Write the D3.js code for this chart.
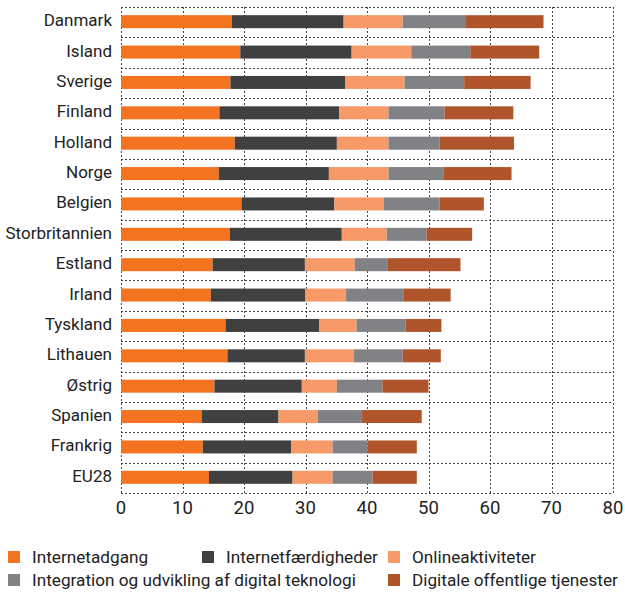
<!DOCTYPE html>
<meta charset="utf-8">
<html>
  <head>
    <style>
      body { margin: 0; background: #fff; }
      text { font-family: Roboto, "Noto Sans", sans-serif; fill: #222; }
      .grid line { stroke: #444; stroke-width: 1px; stroke-dasharray: 2,2; shape-rendering: crispEdges; }
      .country { font-size: 17px; }
      .tick-label { font-size: 18.5px; }
      .legend-text { font-size: 17.2px; }
    </style>
    <script src="https://cdn.jsdelivr.net/npm/d3@7"></script>
  </head>
  <body>
    <div id="chart"></div>
    <script>
    // lande, oppefra og ned
    var countries = ["Danmark","Island","Sverige","Finland","Holland","Norge","Belgien","Storbritannien",
                     "Estland","Irland","Tyskland","Lithauen","Østrig","Spanien","Frankrig","EU28"];
    var seriesNames = ["Internetadgang","Internetfærdigheder","Onlineaktiviteter",
                       "Integration og udvikling af digital teknologi","Digitale offentlige tjenester"];
    var colors = ["#F37321","#404041","#F79A67","#818285","#B0552B"];

    var internetadgang      = [18.0,19.4,17.8,16.0,18.5,15.9,19.6,17.7,14.9,14.6,17.0,17.3,15.2,13.1,13.3,14.3];
    var internetfaerdigheder = [18.2,18.1,18.7,19.5,16.6,17.9,15.1,18.2,15.0,15.4,15.2,12.6,14.2,12.5,14.4,13.6];
    var onlineaktiviteter   = [ 9.6, 9.7, 9.6, 8.0, 8.4, 9.7, 8.0, 7.3, 8.1, 6.6, 6.1, 8.0, 5.7, 6.4, 6.7, 6.5];
    var integration         = [10.3, 9.6, 9.7, 9.1, 8.3, 8.9, 9.1, 6.5, 5.4, 9.4, 8.0, 7.9, 7.4, 7.2, 5.7, 6.5];
    var offentlige          = [12.6,11.2,10.8,11.2,12.1,11.1, 7.2, 7.4,11.8, 7.6, 5.8, 6.2, 7.5, 9.7, 8.0, 7.2];
    var xTicks = [0,10,20,30,40,50,60,70,80];

    var allSeries = [internetadgang, internetfaerdigheder, onlineaktiviteter, integration, offentlige];

    var width = 625, height = 594;
    var plotLeft = 121, plotRight = 613, plotTop = 7, plotBottom = 493;

    var rows = countries.map(function(c, i) {
      var r = { name: c };
      seriesNames.forEach(function(s, j) { r[s] = allSeries[j][i]; });
      return r;
    });

    var stacked = d3.stack().keys(seriesNames)(rows);

    var x = d3.scaleLinear().domain([0, 80]).range([plotLeft, plotRight]);
    var y = d3.scaleBand().domain(countries).range([plotTop, plotBottom]);
    var color = d3.scaleOrdinal().domain(seriesNames).range(colors);
    var barH = 13;

    var svg = d3.select("#chart").append("svg")
        .attr("width", width)
        .attr("height", height);

    // gitter
    var grid = svg.append("g").attr("class", "grid");
    grid.selectAll(".v").data(xTicks).enter().append("line")
        .attr("x1", function(d) { return Math.round(x(d)) + 0.5; })
        .attr("x2", function(d) { return Math.round(x(d)) + 0.5; })
        .attr("y1", plotTop).attr("y2", plotBottom);
    var hLines = countries.map(function(c) { return y(c); }).concat([plotBottom]);
    grid.selectAll(".h").data(hLines).enter().append("line")
        .attr("x1", plotLeft).attr("x2", plotRight)
        .attr("y1", function(d) { return Math.round(d) + 0.5; })
        .attr("y2", function(d) { return Math.round(d) + 0.5; });

    // stablede søjler
    svg.selectAll(".serie")
        .data(stacked)
        .enter().append("g")
        .attr("class", "serie")
        .style("fill", function(d) { return color(d.key); })
      .selectAll("rect")
        .data(function(d) { return d; })
        .enter().append("rect")
        .attr("x", function(d) { return x(d[0]); })
        .attr("width", function(d) { return x(d[1]) - x(d[0]); })
        .attr("y", function(d) { return y(d.data.name) + y.bandwidth() / 2 - barH / 2 - 0.5; })
        .attr("height", barH);

    // landenavne
    svg.selectAll(".country")
        .data(countries)
        .enter().append("text")
        .attr("class", "country")
        .attr("x", plotLeft - 9)
        .attr("y", function(d) { return y(d) + y.bandwidth() / 2 - 2; })
        .attr("dy", "0.35em")
        .style("text-anchor", "end")
        .text(function(d) { return d; });

    // x-akse
    svg.selectAll(".tick-label")
        .data(xTicks)
        .enter().append("text")
        .attr("class", "tick-label")
        .attr("x", function(d) { return x(d); })
        .attr("y", 508)
        .attr("dy", "0.35em")
        .style("text-anchor", "middle")
        .text(function(d) { return d; });

    // signatur
    var legendPos = [[8, 557], [202, 557], [388, 557], [8, 580], [388, 580]];
    var legend = svg.selectAll(".legend")
        .data(seriesNames)
        .enter().append("g")
        .attr("class", "legend")
        .attr("transform", function(d, i) { return "translate(" + legendPos[i][0] + "," + legendPos[i][1] + ")"; });
    legend.append("rect")
        .attr("x", 0).attr("y", -6)
        .attr("width", 12).attr("height", 12)
        .style("fill", function(d) { return color(d); });
    legend.append("text")
        .attr("class", "legend-text")
        .attr("x", 24)
        .attr("y", 0)
        .attr("dy", "0.35em")
        .text(function(d) { return d; });
    </script>
  </body>
</html>
